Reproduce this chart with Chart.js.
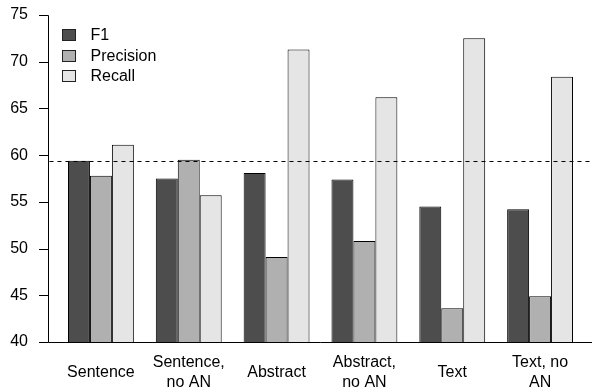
<!DOCTYPE html>
<html>
<head>
<meta charset="utf-8">
<script src="https://cdn.jsdelivr.net/npm/chart.js@4"></script>
<style>
  html, body { margin: 0; padding: 0; background: #fff; }
  canvas { display: block; }
</style>
</head>
<body>
<canvas id="myChart" width="592" height="388"></canvas>
<script>
// data block
const categories = [
    'Sentence',
    ['Sentence,', 'no AN'],
    'Abstract',
    ['Abstract,', 'no AN'],
    'Text',
    ['Text, no', 'AN']
];
const f1Values        = [59.4, 57.5, 58.1, 57.4, 54.5, 54.2];
const precisionValues = [57.8, 59.5, 49.1, 50.8, 43.6, 44.9];
const recallValues    = [61.1, 55.7, 71.3, 66.2, 72.5, 68.4];
const yTicks = [40, 45, 50, 55, 60, 65, 70, 75];
const referenceValue = 59.4;

const FONT = "'Liberation Sans', Arial, Helvetica, sans-serif";

const data = {
    labels: categories,
    datasets: [{
        label: 'F1',
        data: f1Values,
        backgroundColor: '#4d4d4d',
        borderColor: '#000000',
        borderWidth: 1,
        borderSkipped: false
    }, {
        label: 'Precision',
        data: precisionValues,
        backgroundColor: '#b0b0b0',
        borderColor: '#000000',
        borderWidth: 1,
        borderSkipped: false
    }, {
        label: 'Recall',
        data: recallValues,
        backgroundColor: '#e5e5e5',
        borderColor: '#000000',
        borderWidth: 1,
        borderSkipped: false
    }]
};

// axis line, tick marks, baseline, dashed reference line and legend
const decorations = {
    id: 'decorations',
    afterDatasetsDraw(chart) {
        const ctx = chart.ctx;
        const y = chart.scales.y;
        const axisX = 48.5;
        ctx.save();
        ctx.strokeStyle = '#000';
        ctx.lineWidth = 1;

        // y axis line and ticks
        const yTop = Math.round(y.getPixelForValue(yTicks[yTicks.length - 1])) + 0.5;
        const yBot = Math.round(y.getPixelForValue(yTicks[0])) + 0.5;
        ctx.beginPath();
        ctx.moveTo(axisX, yTop);
        ctx.lineTo(axisX, yBot);
        yTicks.forEach(v => {
            const py = Math.round(y.getPixelForValue(v)) + 0.5;
            ctx.moveTo(axisX - 9.5, py);
            ctx.lineTo(axisX, py);
        });
        // baseline
        ctx.moveTo(axisX, yBot);
        ctx.lineTo(chart.width, yBot);
        ctx.stroke();

        // dashed reference line
        const ry = Math.round(y.getPixelForValue(referenceValue)) + 0.5;
        ctx.setLineDash([4, 4]);
        ctx.beginPath();
        ctx.moveTo(axisX + 1, ry);
        ctx.lineTo(chart.width, ry);
        ctx.stroke();
        ctx.setLineDash([]);

        // legend
        ctx.font = '16px ' + FONT;
        ctx.textBaseline = 'middle';
        ctx.textAlign = 'left';
        chart.data.datasets.forEach((ds, i) => {
            const cy = 34.5 + i * 20.7;
            ctx.fillStyle = ds.backgroundColor;
            ctx.fillRect(62.5, Math.round(cy - 5.5) + 0.5, 13, 11);
            ctx.strokeStyle = '#222';
            ctx.strokeRect(62.5, Math.round(cy - 5.5) + 0.5, 13, 11);
            ctx.fillStyle = '#000';
            ctx.fillText(ds.label, 90.5, cy + 1);
        });
        ctx.restore();
    }
};

// config block
const config = {
    type: 'bar',
    data: data,
    options: {
        responsive: false,
        animation: false,
        devicePixelRatio: 1,
        layout: {
            padding: { top: 15, right: 8, left: 0, bottom: 0 }
        },
        datasets: {
            bar: {
                categoryPercentage: 0.75,
                barPercentage: 1.0
            }
        },
        scales: {
            x: {
                grid: { display: false },
                border: { display: false },
                ticks: {
                    autoSkip: false,
                    maxRotation: 0,
                    minRotation: 0,
                    crossAlign: 'center',
                    padding: 13,
                    color: '#000',
                    font: { family: FONT, size: 16, lineHeight: 1.23 }
                },
                afterFit(scale) { scale.height = 46; }
            },
            y: {
                min: 40,
                max: 75,
                grid: { display: false, tickLength: 29 },
                border: { display: false },
                ticks: {
                    stepSize: 5,
                    padding: 0,
                    color: '#000',
                    font: { family: FONT, size: 16 }
                },
                afterBuildTicks(scale) {
                    scale.ticks = yTicks.map(v => ({ value: v }));
                },
                afterFit(scale) { scale.width = 57; }
            }
        },
        plugins: {
            legend: { display: false },
            tooltip: { enabled: false }
        }
    },
    plugins: [decorations]
};

// init render block
const myChart = new Chart(
    document.getElementById('myChart'),
    config
);
</script>
</body>
</html>
